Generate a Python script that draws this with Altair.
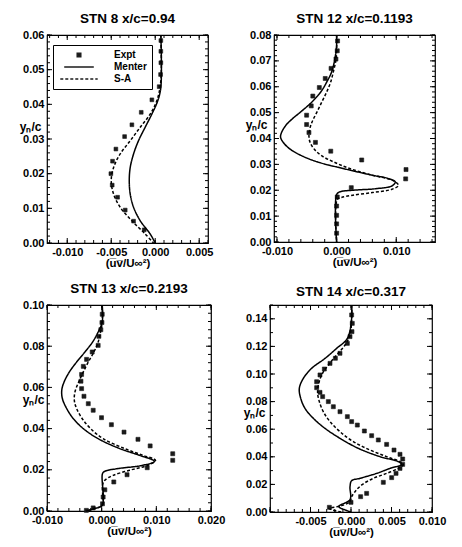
import altair as alt
import pandas as pd

FONT = "Liberation Sans"
WEIGHT = "bold"
SERIES = ["Expt", "Menter", "S-A"]
X_TITLE = "(u\u0305v\u0305/U\u221e\u00b2)"
Y_TITLE = "y\u2099/c"

# ---------------- STN 8, x/c = 0.94 ----------------
stn8_expt_x = [0.00064, 0.00064, 0.00064, 0.00061, 0.00045, -0.00038, -0.00159, -0.00265, -0.00348,
               -0.00447, -0.00485, -0.00504, -0.00489, -0.00428, -0.00341, -0.00246, -0.00125]
stn8_expt_y = [0.0584, 0.0553, 0.0520, 0.0486, 0.0451, 0.0413, 0.0377, 0.0341, 0.0307,
               0.0271, 0.0236, 0.0200, 0.0167, 0.0132, 0.0095, 0.0063, 0.0038]
stn8_menter_x = [0.00064, 0.00064, 0.00030, -0.00038, -0.00114, -0.00190, -0.00246, -0.00284, -0.00295,
                 -0.00284, -0.00246, -0.00170, -0.00057, 0.0]
stn8_menter_y = [0.0600, 0.0449, 0.0411, 0.0372, 0.0334, 0.0295, 0.0257, 0.0218, 0.0180,
                 0.0141, 0.0103, 0.0064, 0.0026, 0.0]
stn8_sa_x = [0.00064, 0.00064, 0.00019, -0.00057, -0.00170, -0.00284, -0.00398, -0.00473, -0.00500,
             -0.00473, -0.00398, -0.00265, -0.00114, -0.00019]
stn8_sa_y = [0.0600, 0.0468, 0.0411, 0.0372, 0.0334, 0.0295, 0.0257, 0.0218, 0.0180,
             0.0141, 0.0103, 0.0064, 0.0026, 0.0]

# ---------------- STN 12, x/c = 0.1193 ----------------
stn12_expt_x = [0.00016, 0.00011, -0.00011, -0.00093, -0.00191, -0.00290, -0.00399, -0.00426, -0.00503,
                -0.00503, -0.00464, -0.00355, -0.00098, 0.00421, 0.01164, 0.01158, 0.00246, 0.00011,
                0.0, 0.0, 0.0, 0.0]
stn12_expt_y = [0.0777, 0.0739, 0.0707, 0.0671, 0.0632, 0.0597, 0.0564, 0.0526, 0.0490,
                0.0454, 0.0423, 0.0385, 0.0351, 0.0317, 0.0280, 0.0244, 0.0210, 0.0174,
                0.0139, 0.0103, 0.0070, 0.0034]
stn12_menter_x = [0.0, 0.0, -0.00011, -0.00038, -0.00082, -0.00164, -0.00262, -0.00410, -0.00601,
                  -0.00738, -0.00847, -0.00918, -0.00940, -0.00902, -0.00792, -0.00601, -0.00328,
                  0.00109, 0.00601, 0.00874, 0.00984, 0.00929, 0.00656, 0.00273, 0.00055, 0.0, 0.0]
stn12_menter_y = [0.0800, 0.0761, 0.0735, 0.0697, 0.0658, 0.0619, 0.0581, 0.0542, 0.0503,
                  0.0477, 0.0452, 0.0426, 0.0406, 0.0387, 0.0361, 0.0335, 0.0310,
                  0.0284, 0.0258, 0.0245, 0.0232, 0.0217, 0.0206, 0.0200, 0.0194, 0.0183, 0.0]
stn12_sa_x = [0.0, 0.0, -0.00016, -0.00055, -0.00098, -0.00164, -0.00246, -0.00328, -0.00410,
              -0.00448, -0.00464, -0.00448, -0.00383, -0.00262, -0.00055, 0.00219, 0.00601,
              0.00929, 0.01038, 0.00929, 0.00601, 0.00273, 0.00082, 0.00011, 0.0]
stn12_sa_y = [0.0800, 0.0735, 0.0697, 0.0658, 0.0619, 0.0581, 0.0542, 0.0503, 0.0465,
              0.0439, 0.0413, 0.0387, 0.0361, 0.0335, 0.0310, 0.0284, 0.0258,
              0.0239, 0.0219, 0.0204, 0.0191, 0.0181, 0.0172, 0.0165, 0.0]

# ---------------- STN 13, x/c = 0.2193 ----------------
stn13_expt_x = [0.00010, 0.00005, -0.00015, -0.00051, -0.00064, -0.00173, -0.00276, -0.00336, -0.00367,
                -0.00379, -0.00367, -0.00324, -0.00245, -0.00155, -0.00003, 0.00178, 0.00409, 0.00664,
                0.00887, 0.01300, 0.01300, 0.00833, 0.00464, 0.00222, 0.00058, 0.00027, 0.00015,
                -0.00155, -0.00280]
stn13_expt_y = [0.0955, 0.0915, 0.0880, 0.0848, 0.0804, 0.0772, 0.0736, 0.0702, 0.0663,
                0.0630, 0.0594, 0.0557, 0.0521, 0.0489, 0.0453, 0.0419, 0.0383, 0.0348,
                0.0316, 0.0278, 0.0246, 0.0210, 0.0176, 0.0141, 0.0103, 0.0068, 0.0035,
                0.0015, 0.0003]
stn13_menter_x = [0.00010, 0.00010, -0.00064, -0.00167, -0.00306, -0.00458, -0.00591, -0.00688, -0.00730,
                  -0.00718, -0.00639, -0.00518, -0.00336, -0.00064, 0.00330, 0.00694, 0.00967, 0.00755,
                  0.00270, 0.00058, 0.00015, 0.00009, -0.00130, -0.00290]
stn13_menter_y = [0.1000, 0.0917, 0.0869, 0.0820, 0.0772, 0.0723, 0.0675, 0.0626, 0.0586,
                  0.0545, 0.0497, 0.0448, 0.0400, 0.0351, 0.0303, 0.0270, 0.0241, 0.0222,
                  0.0205, 0.0193, 0.0181, 0.0028, 0.0012, 0.0]
stn13_sa_x = [0.00010, 0.00010, -0.00021, -0.00064, -0.00142, -0.00245, -0.00336, -0.00421, -0.00488,
              -0.00500, -0.00458, -0.00355, -0.00203, 0.00027, 0.00421, 0.00755, 0.00985, 0.00845,
              0.00512, 0.00209, 0.00058, 0.00015, 0.00009, -0.00130, -0.00280]
stn13_sa_y = [0.1000, 0.0917, 0.0869, 0.0820, 0.0772, 0.0723, 0.0675, 0.0626, 0.0578,
              0.0537, 0.0497, 0.0448, 0.0400, 0.0351, 0.0303, 0.0270, 0.0246, 0.0222,
              0.0198, 0.0173, 0.0149, 0.0125, 0.0028, 0.0013, 0.0]

# ---------------- STN 14, x/c = 0.317 ----------------
stn14_expt_x = [0.00008, 0.00016, 0.00012, -0.00012, -0.00045, -0.00136, -0.00193, -0.00259, -0.00329,
                -0.00383, -0.00424, -0.00424, -0.00383, -0.00350, -0.00280, -0.00218, -0.00136, -0.00045,
                0.00008, 0.00078, 0.00165, 0.00255, 0.00337, 0.00440, 0.00531, 0.00605, 0.00638,
                0.00638, 0.00605, 0.00556, 0.00502, 0.00399, 0.00193, 0.00119, 0.0, -0.00267]
stn14_expt_y = [0.1428, 0.1367, 0.1307, 0.1271, 0.1222, 0.1150, 0.1114, 0.1077, 0.1036,
                0.0993, 0.0944, 0.0901, 0.0867, 0.0836, 0.0800, 0.0763, 0.0727, 0.0691,
                0.0655, 0.0630, 0.0587, 0.0553, 0.0522, 0.0490, 0.0449, 0.0418, 0.0384,
                0.0345, 0.0316, 0.0280, 0.0249, 0.0215, 0.0135, 0.0111, 0.0070, 0.0034]
stn14_menter_x = [0.00008, 0.00008, -0.00045, -0.00177, -0.00321, -0.00486, -0.00588, -0.00638, -0.00621,
                  -0.00568, -0.00465, -0.00321, -0.00136, 0.00091, 0.00358, 0.00584, 0.00626, 0.00481,
                  0.00317, 0.00111, 0.00008, -0.00012, -0.00012, -0.00150, -0.00050, 0.0]
stn14_menter_y = [0.1500, 0.1403, 0.1258, 0.1186, 0.1113, 0.1041, 0.0969, 0.0896, 0.0824,
                  0.0751, 0.0679, 0.0606, 0.0534, 0.0461, 0.0401, 0.0365, 0.0345, 0.0316,
                  0.0280, 0.0244, 0.0227, 0.0184, 0.0090, 0.0040, 0.0010, 0.0]
stn14_sa_x = [0.00008, 0.00008, -0.00012, -0.00074, -0.00177, -0.00280, -0.00362, -0.00403, -0.00412,
              -0.00391, -0.00342, -0.00259, -0.00136, 0.00029, 0.00235, 0.00440, 0.00605, 0.00646,
              0.00584, 0.00440, 0.00276, 0.00132, 0.00049, 0.00008, -0.00012, -0.00120, -0.00270,
              -0.00120]
stn14_sa_y = [0.1500, 0.1403, 0.1283, 0.1210, 0.1138, 0.1065, 0.0993, 0.0920, 0.0860,
              0.0800, 0.0727, 0.0655, 0.0582, 0.0510, 0.0449, 0.0401, 0.0365, 0.0345,
              0.0316, 0.0280, 0.0244, 0.0196, 0.0147, 0.0111, 0.0075, 0.0045, 0.0025,
              0.0]


def steps(lo, hi, step):
    """Tick positions from lo to hi (inclusive) with the given spacing."""
    n = int(round((hi - lo) / step))
    return [round(lo + k * step, 6) for k in range(n + 1)]


def inward_ticks(xdom, ydom, xvals, yvals, length):
    """Tick marks on all four frame edges, pointing into the plot."""
    half = length / 2.0
    xdf = pd.DataFrame({"v": xvals})
    ydf = pd.DataFrame({"v": yvals})
    common = dict(color="black", thickness=1, size=length, opacity=1)
    bottom = alt.Chart(xdf).mark_tick(orient="vertical", yOffset=-half, **common).encode(
        x=alt.X("v:Q", axis=None), y=alt.Y(datum=ydom[0], axis=None))
    top = alt.Chart(xdf).mark_tick(orient="vertical", yOffset=half, **common).encode(
        x=alt.X("v:Q", axis=None), y=alt.Y(datum=ydom[1], axis=None))
    left = alt.Chart(ydf).mark_tick(orient="horizontal", xOffset=half, **common).encode(
        y=alt.Y("v:Q", axis=None), x=alt.X(datum=xdom[0], axis=None))
    right = alt.Chart(ydf).mark_tick(orient="horizontal", xOffset=-half, **common).encode(
        y=alt.Y("v:Q", axis=None), x=alt.X(datum=xdom[1], axis=None))
    return [bottom, top, left, right]


def panel(title, ex, ey, mx, my, sx, sy, xdom, ydom, xmajor, xlabels, ylabels, xminor, yminor,
          ytitle_x, ytitle_y, width, height, legend=False):
    expt = pd.DataFrame({"x": ex, "y": ey, "series": "Expt"})
    lines = pd.concat([
        pd.DataFrame({"x": mx, "y": my, "series": "Menter", "i": range(len(mx))}),
        pd.DataFrame({"x": sx, "y": sy, "series": "S-A", "i": range(len(sx))}),
    ])
    xs = alt.Scale(domain=xdom, nice=False, zero=False)
    ys = alt.Scale(domain=ydom, nice=False, zero=False)

    x_axis = alt.Axis(values=xlabels, title=X_TITLE, ticks=False, domain=False, grid=False,
                      labelExpr="(datum.value < -1e-9 ? '-' : '') + format(abs(datum.value), '.3f')",
                      labelFont=FONT, labelFontSize=11, labelFontWeight=WEIGHT, labelColor="black",
                      labelPadding=3, labelOverlap=False, labelFlush=False,
                      titleFont=FONT, titleFontSize=11.5, titleFontWeight=WEIGHT,
                      titleColor="black", titlePadding=0)
    y_axis = alt.Axis(values=ylabels, title=Y_TITLE, ticks=False, domain=False, grid=False,
                      format=".2f", labelFont=FONT, labelFontSize=11, labelFontWeight=WEIGHT,
                      labelColor="black", labelPadding=3, labelOverlap=False, labelFlush=False,
                      titleFont=FONT, titleFontSize=12, titleFontWeight=WEIGHT, titleColor="black",
                      titleAngle=0, titleAlign="right", titleBaseline="middle",
                      titleX=ytitle_x, titleY=ytitle_y)

    leg = alt.Legend(orient="none", legendX=6, legendY=10, title=None, strokeColor="black",
                     fillColor="white", padding=5, rowPadding=2, labelFont=FONT, labelFontSize=10,
                     labelFontWeight=WEIGHT, labelColor="black", symbolOffset=16, labelOffset=30,
                     symbolStrokeWidth=1.3)

    pts = alt.Chart(expt).mark_point(filled=False, fill="#1a1a1a", fillOpacity=1, strokeWidth=0.6,
                                     opacity=1)
    if legend:
        pts = pts.encode(
            color=alt.Color("series:N", scale=alt.Scale(domain=SERIES, range=["#1a1a1a"] * 3),
                            legend=leg),
            shape=alt.Shape("series:N", scale=alt.Scale(domain=SERIES,
                                                       range=["square", "M-5,0H5", "M-5,0H5"]),
                            legend=leg),
            size=alt.Size("series:N", scale=alt.Scale(domain=SERIES, range=[14, 56, 56]), legend=leg),
        )
    else:
        pts = pts.encode(color=alt.value("#1a1a1a"), shape=alt.value("square"), size=alt.value(16))
    pts = pts.encode(x=alt.X("x:Q", scale=xs, axis=x_axis), y=alt.Y("y:Q", scale=ys, axis=y_axis))

    ln = alt.Chart(lines).mark_line(color="black", strokeWidth=1.5, interpolate="catmull-rom")
    ln = ln.encode(
        x=alt.X("x:Q", scale=xs, axis=None),
        y=alt.Y("y:Q", scale=ys, axis=None),
        detail="series:N",
        order="i:Q",
        strokeDash=alt.StrokeDash("series:N",
                                  scale=alt.Scale(domain=SERIES, range=[[1, 0], [1, 0], [3, 2]]),
                                  legend=leg if legend else None),
    )

    ticks = inward_ticks(xdom, ydom, xmajor, ylabels, 5) + inward_ticks(xdom, ydom, xminor, yminor, 3)
    return alt.layer(pts, ln, *ticks).resolve_axis(x="independent", y="independent").properties(
        width=width, height=height,
        title=alt.TitleParams(title, font=FONT, fontSize=13.5, fontWeight=WEIGHT, color="black",
                              offset=4),
    )


p1 = panel("STN 8 x/c=0.94", stn8_expt_x, stn8_expt_y, stn8_menter_x, stn8_menter_y,
           stn8_sa_x, stn8_sa_y, [-0.0123, 0.0060], [0.0, 0.06],
           [-0.010, -0.005, 0.0, 0.005], [-0.010, -0.005, 0.0, 0.005], steps(0.0, 0.06, 0.01),
           steps(-0.012, 0.006, 0.001), steps(0.0, 0.06, 0.002),
           -6, 91, 161, 208, legend=True)
p2 = panel("STN 12 x/c=0.1193", stn12_expt_x, stn12_expt_y, stn12_menter_x, stn12_menter_y,
           stn12_sa_x, stn12_sa_y, [-0.0105, 0.0165], [0.0, 0.08],
           [-0.010, 0.0, 0.010], [-0.010, 0.0, 0.010], steps(0.0, 0.08, 0.01),
           steps(-0.010, 0.016, 0.002), steps(0.0, 0.08, 0.002),
           -7, 89, 161, 207)
p3 = panel("STN 13 x/c=0.2193", stn13_expt_x, stn13_expt_y, stn13_menter_x, stn13_menter_y,
           stn13_sa_x, stn13_sa_y, [-0.010, 0.020], [0.0, 0.10],
           [-0.010, 0.0, 0.010, 0.020], [-0.010, 0.0, 0.010, 0.020], steps(0.0, 0.10, 0.02),
           steps(-0.010, 0.020, 0.002), steps(0.0, 0.10, 0.004),
           -3, 94, 164, 206)
p4 = panel("STN 14 x/c=0.317", stn14_expt_x, stn14_expt_y, stn14_menter_x, stn14_menter_y,
           stn14_sa_x, stn14_sa_y, [-0.010, 0.010], [0.0, 0.15],
           [-0.010, -0.005, 0.0, 0.005, 0.010], [-0.005, 0.0, 0.005, 0.010], steps(0.0, 0.14, 0.02),
           steps(-0.010, 0.010, 0.001), steps(0.0, 0.15, 0.01),
           -5, 107, 162, 207)

chart = alt.vconcat(
    alt.hconcat(p1, p2, spacing=30),
    alt.hconcat(p3, p4, spacing=16),
    spacing=10,
).resolve_scale(color="independent", shape="independent", size="independent",
                strokeDash="independent").properties(
    padding={"left": 18, "top": 10, "right": 4, "bottom": 4},
    background="white",
).configure_view(stroke="black", strokeWidth=1.2)

chart.save("out.html", embed_options={"renderer": "svg", "actions": False})
